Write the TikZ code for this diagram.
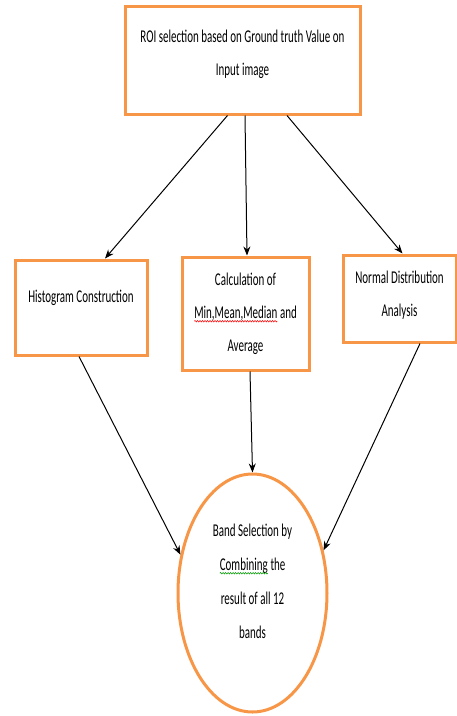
\documentclass[tikz,border=0pt]{standalone}
\usepackage{fontspec}
\setmainfont{Carlito}[FakeStretch=0.61]
\usepackage{tikz}
\usetikzlibrary{shapes.geometric, arrows.meta, positioning, decorations.pathmorphing}

\definecolor{boxorange}{RGB}{247,150,70}

% spell-check squiggle under a word
\newcommand{\squiggle}[2]{\tikz[baseline=(w.base), x=1cm, y=1cm]{\node[rectangle, draw=none, inner sep=0pt, outer sep=0pt, minimum size=0pt, text depth=, text height=](w){#2};
  \draw[#1, line width=0.5pt, decorate, decoration={snake, amplitude=0.8pt, segment length=2.5pt}] ([yshift=-3pt]w.base west) -- ([yshift=-3pt]w.base east);}}

\begin{document}
\begin{tikzpicture}[
    x=1pt, y=-1pt,
    stage/.style={rectangle, draw=boxorange, line width=3pt, align=center, font=\fontsize{18}{33}\selectfont, text=black},
    result/.style={ellipse, draw=boxorange, line width=3pt, align=center, font=\fontsize{18}{34}\selectfont, text=black, inner sep=0pt},
    arrow/.style={-{Stealth[length=9pt,width=7pt]}, line width=1pt}
]
\useasboundingbox (0,0) rectangle (457,716);

% Input step (top)
\node[stage, minimum width=235pt, minimum height=108pt, text depth=14pt] (roi) at (242.5, 60) {ROI selection based on Ground truth Value on\\Input image};

% Analysis steps (middle row)
\node[stage, minimum width=132pt, minimum height=95pt, text depth=22pt] (hist) at (81, 307.5) {Histogram Construction};
\node[stage, minimum width=127pt, minimum height=113pt] (calc) at (245.5, 313.5) {Calculation of\\\squiggle{red}{Min,Mean,Median} and\\Average};
\node[stage, minimum width=113pt, minimum height=87pt, text depth=10pt] (normal) at (399.5, 298.5) {Normal Distribution\\Analysis};

% Final selection
\node[result, minimum width=149pt, minimum height=238pt, text depth=24pt] (band) at (252.5, 593) {Band Selection by\\\squiggle{green!60!black}{Combining} the\\result of all 12\\bands};

% Arrows from input to analysis
\draw[arrow] ([xshift=-15pt]roi.south) -- ([xshift=24pt]hist.north);
\draw[arrow] ([xshift=2.5pt]roi.south) -- ([xshift=1.5pt]calc.north);
\draw[arrow] ([xshift=44.5pt]roi.south) -- ([xshift=3pt]normal.north);

% Arrows from analysis to selection
\draw[arrow] ([xshift=-2pt]hist.south) -- (band.152);
\draw[arrow] ([xshift=4.5pt]calc.south) -- (band.north);
\draw[arrow] ([xshift=20.5pt]normal.south) -- (band.31);

\end{tikzpicture}
\end{document}
